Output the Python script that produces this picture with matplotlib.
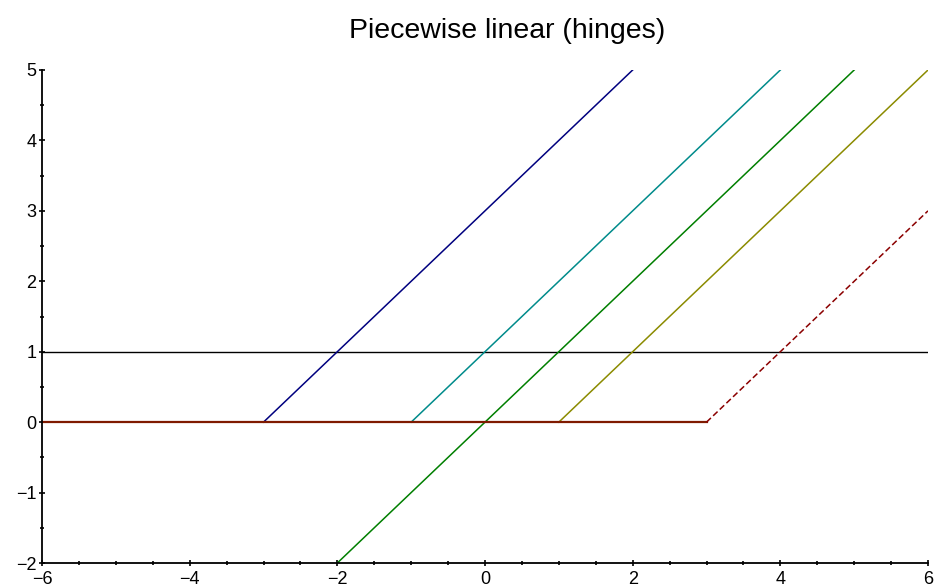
import numpy as np
import matplotlib.pyplot as plt
from matplotlib.ticker import MultipleLocator

plt.rcParams['font.family'] = ['Liberation Sans', 'DejaVu Sans']

# hinge knots and line colours
knots = [-3, -1, 1]
hinge_colors = ['#00007f', '#008b8b', '#8b8b00']
last_knot = 3
identity_color = '#007f00'
flat_color = '#7f1a00'
last_color = '#8b0000'
threshold = 1

x = np.linspace(-6, 6, 481)

fig = plt.figure(figsize=(9.34, 5.88), dpi=100)
ax = fig.add_axes([42 / 934, 25 / 588, 886 / 934, 493 / 588])

ax.axhline(threshold, color='black', lw=1.0)
ax.plot(x, x, color=identity_color, lw=1.1)
for k, c in zip(knots, hinge_colors):
    xs = x[x >= k]
    ax.plot(xs, np.maximum(0, xs - k), color=c, lw=1.1)
xs = x[x <= last_knot]
ax.plot(xs, np.zeros_like(xs), color=flat_color, lw=1.6)
xs = x[x >= last_knot]
ax.plot(xs, np.maximum(0, xs - last_knot), color=last_color, lw=1.1, ls=(0, (4, 2)))

ax.set_xlim(-6, 6)
ax.set_ylim(-2, 5)
ax.spines['top'].set_visible(False)
ax.spines['right'].set_visible(False)
ax.spines['left'].set_linewidth(1.3)
ax.spines['bottom'].set_linewidth(1.3)
ax.xaxis.set_major_locator(MultipleLocator(2))
ax.xaxis.set_minor_locator(MultipleLocator(0.5))
ax.yaxis.set_major_locator(MultipleLocator(1))
ax.yaxis.set_minor_locator(MultipleLocator(0.5))
ax.tick_params(which='major', direction='inout', length=5, width=1.2, labelsize=13)
ax.tick_params(which='minor', direction='inout', length=3, width=1.2)
ax.tick_params(axis='x', which='major', pad=3.5)
ax.tick_params(axis='y', which='major', pad=1.5)
ax.set_xticklabels([str(int(t)).replace('-', '\u2212') for t in ax.get_xticks()])
ax.set_yticklabels([str(int(t)).replace('-', '\u2212') for t in ax.get_yticks()])

fig.text(507.5 / 934, 1 - 38 / 588, 'Piecewise linear (hinges)', ha='center', va='baseline', fontsize=20.5)

fig.savefig('out.png', dpi=100)
